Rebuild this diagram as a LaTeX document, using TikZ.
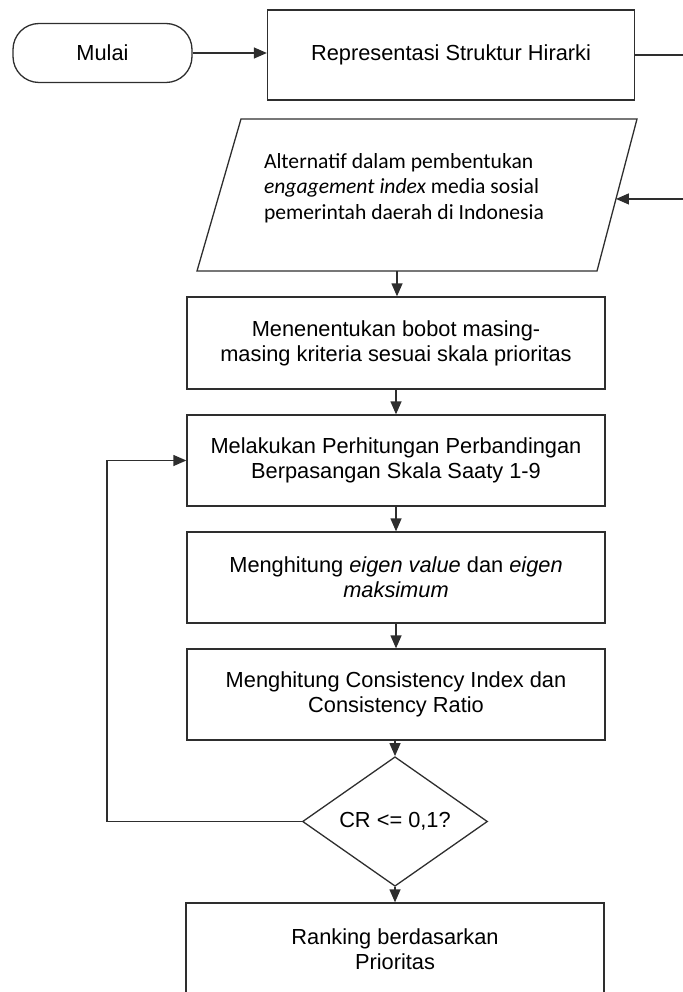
\documentclass[tikz,border=0pt]{standalone}
\usepackage{fontspec}
\setmainfont{Liberation Sans}
\newfontfamily\carlito{Carlito}
\usetikzlibrary{arrows.meta,shapes.geometric,calc}

\tikzset{
  every node/.style={text=black},
  line/.style={draw=black!82, line width=1.3pt},
  arrowline/.style={line, -{Triangle[length=13pt,width=11pt]}},
  procbox/.style={line, rectangle, minimum width=418pt, minimum height=91pt,
    inner sep=0pt, align=center, font=\fontsize{21.8}{25}\selectfont},
  terminal/.style={line, rectangle, rounded corners=26pt, minimum width=179pt,
    minimum height=59pt, inner sep=0pt, font=\fontsize{21.8}{25}\selectfont},
  decision/.style={line, diamond, minimum width=185pt, minimum height=109pt,
    inner sep=0pt, font=\fontsize{21.8}{25}\selectfont}
}

\begin{document}
\begin{tikzpicture}[x=1pt, y=-1pt]
  \useasboundingbox (0,0) rectangle (682,992);

  % start and hierarchy
  \node[terminal] (mulai) at (102.5,53) {Mulai};
  \node[procbox, minimum width=367pt, minimum height=90pt] (rep) at (451,55)
    {Representasi Struktur Hirarki};

  % alternatives (input parallelogram)
  \coordinate (pTL) at (241,119);
  \coordinate (pTR) at (637,119);
  \coordinate (pBR) at (597,271);
  \coordinate (pBL) at (197,271);
  \draw[line, line join=miter] (pTL) -- (pTR) -- (pBR) -- (pBL) -- cycle;
  \coordinate (pin) at ($(pTR)!0.526!(pBR)$);
  \coordinate (pout) at ($(pBL)!0.5!(pBR)$);
  \node[align=left, inner sep=0pt, font=\carlito\fontsize{21.6}{25.5}\selectfont]
    (alttext) at (404,188)
    {Alternatif dalam pembentukan\\
     \textit{engagement index} media sosial\\
     pemerintah daerah di Indonesia};

  % AHP steps
  \node[procbox, minimum height=92pt] (bobot) at (396,343)
    {Menenentukan bobot masing-\\masing kriteria sesuai skala prioritas};
  \node[procbox] (saaty) at (396,460.5)
    {Melakukan Perhitungan Perbandingan\\Berpasangan Skala Saaty 1-9};
  \node[procbox] (eigen) at (396,577.5)
    {Menghitung \textit{eigen value} dan \textit{eigen}\\\textit{maksimum}};
  \node[procbox] (ci) at (396,694.5)
    {Menghitung Consistency Index dan\\Consistency Ratio};
  \node[decision] (cr) at (395,821.5) {CR <= 0,1?};
  \node[procbox, minimum height=92pt] (rank) at (395,949)
    {Ranking berdasarkan\\Prioritas};

  % helper points for the routed connectors
  \coordinate (loop) at (107,821.5);
  \coordinate (edge) at (700,55);

  % connectors
  \draw[arrowline] (mulai.east) -- (mulai.east -| rep.west);
  \draw[arrowline] (rep.east) -- (edge) |- (pin);
  \draw[arrowline] (pout) -- (pout |- bobot.north);
  \draw[arrowline] (bobot) -- (saaty);
  \draw[arrowline] (saaty) -- (eigen);
  \draw[arrowline] (eigen) -- (ci);
  \draw[arrowline] (ci.south -| cr.north) -- (cr.north);
  \draw[arrowline] (cr) -- (rank);
  \draw[arrowline] (cr.west) -- (loop) |- (saaty.west);
\end{tikzpicture}
\end{document}
